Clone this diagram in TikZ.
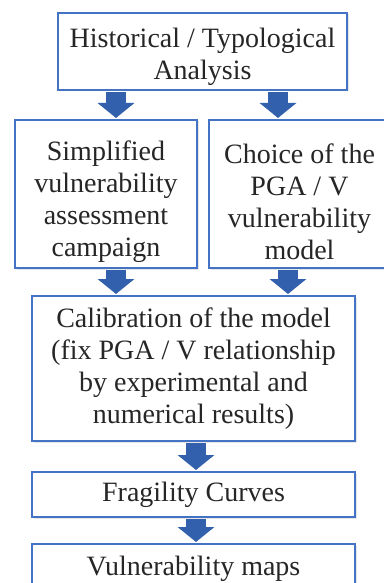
\documentclass[tikz,border=0pt]{standalone}
\usepackage{fontspec}
\setmainfont{Liberation Serif}
\usetikzlibrary{positioning,arrows.meta,shadows}
\definecolor{boxblue}{RGB}{68,114,196}
\definecolor{arrowblue}{RGB}{50,96,172}

\begin{document}
\begin{tikzpicture}[x=1pt,y=-1pt,>=Latex,line width=2pt,node distance=25pt]
\tikzstyle{box}=[rectangle,draw=boxblue,fill=white,align=center,inner sep=0pt,text=black!85,font=\fontsize{28}{32}\selectfont,drop shadow={shadow xshift=1.5pt,shadow yshift=-1.5pt,opacity=0.2}]
\tikzstyle{blk}=[draw=arrowblue,line width=20pt,-{Triangle[length=15pt,width=36pt]},shorten <=1pt,shorten >=1pt]

\useasboundingbox (0,0) rectangle (383,583);

% Top row
\node[box,minimum width=289pt,minimum height=77pt] (hist) at (202.5,51.5) {\rule{0pt}{30pt}Historical / Typological\\Analysis};

% Middle row: the two branches
\node[box,minimum width=182pt,minimum height=148pt] (simp) at (106,194) {\rule{0pt}{36pt}Simplified\\vulnerability\\assessment\\campaign};
\node[box,minimum width=181pt,minimum height=148pt,right=10pt of simp] (choice) {\rule{0pt}{36pt}Choice of the\\PGA / V\\vulnerability\\model};

% Lower chain
\node[box,minimum width=323pt,minimum height=145pt] (calib) at (193.5,368.5) {Calibration of the model\\(fix PGA / V relationship\\by experimental and\\numerical results)};
\node[box,minimum width=323pt,minimum height=45pt,below=29pt of calib] (frag) {Fragility Curves};
\node[box,minimum width=323pt,minimum height=50pt,below=25pt of frag] (vmap) {Vulnerability maps};

% Arrow columns
\coordinate (a1) at (116,0);
\coordinate (a2) at (278,0);
\coordinate (a3) at (116,0);
\coordinate (a4) at (288,0);
\coordinate (a5) at (196,0);

% Block arrows
\draw[blk] (hist.south -| a1) -- (simp.north -| a1);
\draw[blk] (hist.south -| a2) -- (choice.north -| a2);
\draw[blk] (simp.south -| a3) -- (calib.north -| a3);
\draw[blk] (choice.south -| a4) -- (calib.north -| a4);
\draw[blk] (calib.south -| a5) -- (frag.north -| a5);
\draw[blk] (frag.south -| a5) -- (vmap.north -| a5);
\end{tikzpicture}
\end{document}
